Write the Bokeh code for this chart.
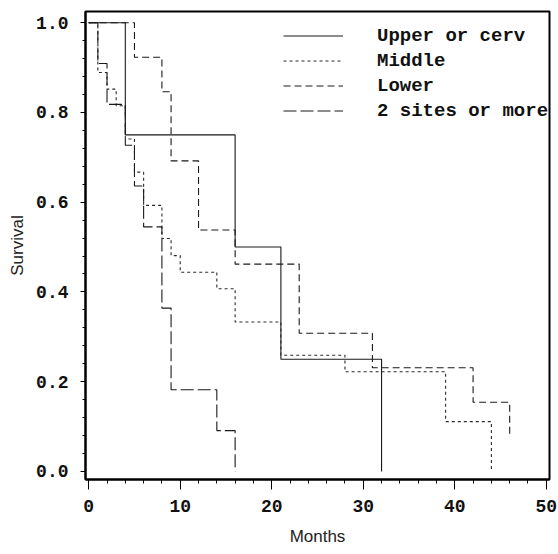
from bokeh.plotting import figure
from bokeh.models import SingleIntervalTicker, PrintfTickFormatter, Legend, LegendItem, Range1d
from bokeh.embed import file_html
from bokeh.resources import INLINE

# Kaplan-Meier survival by tumour site (months, survival)
upper_t = [0, 4, 16, 21, 32]
upper_s = [1.0, 0.75, 0.5, 0.25, 0.0]

middle_t = [0, 1, 2, 3, 4, 5, 6, 8, 9, 10, 14, 16, 21, 28, 39, 44]
middle_s = [1.0, 0.889, 0.852, 0.815, 0.741, 0.667, 0.593, 0.519, 0.481, 0.444,
            0.407, 0.333, 0.259, 0.222, 0.111, 0.0]

lower_t = [0, 5, 8, 9, 12, 16, 23, 31, 42, 46]
lower_s = [1.0, 0.923, 0.846, 0.692, 0.538, 0.462, 0.308, 0.231, 0.154, 0.077]

sites_t = [0, 1, 2, 4, 5, 6, 8, 9, 14, 16]
sites_s = [1.0, 0.909, 0.818, 0.727, 0.636, 0.545, 0.364, 0.182, 0.091, 0.0]

series_names = ["Upper or cerv", "Middle", "Lower", "2 sites or more"]
x_ticks_interval = 10
y_ticks_interval = 0.2

p = figure(width=558, height=554, output_backend="svg", toolbar_location=None,
           x_range=Range1d(-0.35, 50.35), y_range=Range1d(-0.018, 1.025),
           min_border_left=85, min_border_right=9, min_border_top=11, min_border_bottom=75)

p.background_fill_color = "white"
p.border_fill_color = "white"
p.outline_line_color = "black"
p.outline_line_width = 2
p.xgrid.visible = False
p.ygrid.visible = False

r1 = p.step(upper_t, upper_s, mode="after", line_color="#1a1a1a", line_width=1.1)
r2 = p.step(middle_t, middle_s, mode="after", line_color="#2a2a2a", line_width=1.1, line_dash="3 3")
r3 = p.step(lower_t, lower_s, mode="after", line_color="#1a1a1a", line_width=1.1, line_dash="7 4")
r4 = p.step(sites_t, sites_s, mode="after", line_color="#1a1a1a", line_width=1.1, line_dash="13 4")

mono = "Liberation Mono"
sans = "Liberation Sans"

p.xaxis.ticker = SingleIntervalTicker(interval=x_ticks_interval, num_minor_ticks=5)
p.yaxis.ticker = SingleIntervalTicker(interval=y_ticks_interval, num_minor_ticks=5)
p.yaxis.formatter = PrintfTickFormatter(format="%.1f")

for ax in (p.xaxis[0], p.yaxis[0]):
    ax.axis_line_color = "black"
    ax.axis_line_width = 2
    ax.major_tick_line_color = "black"
    ax.minor_tick_line_color = "black"
    ax.major_tick_line_width = 1
    ax.minor_tick_line_width = 1
    ax.major_tick_in = 0
    ax.minor_tick_in = 0
    ax.major_label_text_font = mono
    ax.major_label_text_font_style = "bold"
    ax.major_label_text_font_size = "18px"
    ax.major_label_text_color = "#111111"
    ax.axis_label_text_font = sans
    ax.axis_label_text_font_style = "normal"
    ax.axis_label_text_font_size = "17px"
    ax.axis_label_text_color = "#222222"

p.xaxis.major_tick_out = 10
p.xaxis.minor_tick_out = 4
p.yaxis.major_tick_out = 5
p.yaxis.minor_tick_out = 3
p.xaxis.major_label_standoff = 10
p.yaxis.major_label_standoff = 12
p.xaxis.axis_label = "Months"
p.yaxis.axis_label = "Survival"
p.xaxis.axis_label_standoff = 12
p.yaxis.axis_label_standoff = 6

legend = Legend(items=[LegendItem(label=n, renderers=[r]) for n, r in zip(series_names, [r1, r2, r3, r4])],
                location=(198, 356))
legend.padding = 0
legend.margin = 0
legend.spacing = 0
legend.glyph_width = 60
legend.glyph_height = 25
legend.label_height = 25
legend.label_standoff = 34
legend.label_text_font = mono
legend.label_text_font_style = "bold"
legend.label_text_font_size = "19px"
legend.label_text_color = "#111111"
legend.border_line_alpha = 0
legend.background_fill_alpha = 0
p.add_layout(legend)

open("out.html", "w").write(file_html(p, INLINE))
